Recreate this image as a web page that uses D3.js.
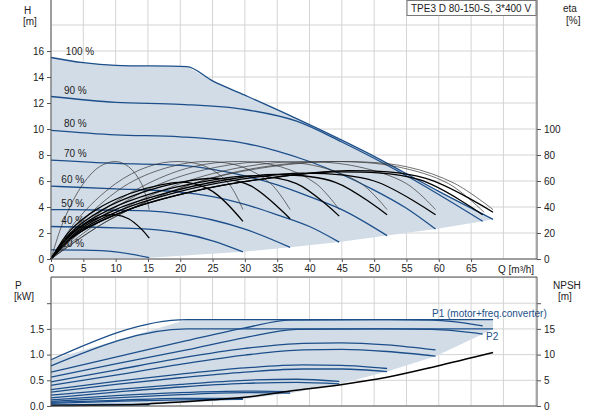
<!DOCTYPE html>
<html><head><meta charset="utf-8">
<script src="https://d3js.org/d3.v7.min.js"></script>
<style>body{margin:0;background:#fff}text{font-family:"Liberation Sans",Arial,sans-serif;font-size:10px;fill:#222}</style>
</head><body><svg id="c" width="593" height="415"></svg>
<script>
const xTicks=[0,5,10,15,20,25,30,35,40,45,50,55,60,65];
const hTicks=[0,2,4,6,8,10,12,14,16];
const etaTicks=[0,20,40,60,80,100];
const pTicks=[0,0.5,1.0,1.5];
const npshTicks=[0,5,10,15];
const speedLabels=["100 %","90 %","80 %","70 %","60 %","50 %","40 %","20 %"];
// QH curves per speed
const qh=[
 [[0,15.5],[5,15.1],[10,14.9],[21,14.8],[25,13.7],[30,12.6],[38,10.8],[50,7.9],[60,5.2],[68.4,3.05]],
 [[0,12.5],[10,12.05],[20,11.9],[30,11.5],[38,10.6],[45,9.0],[55,6.4],[66.8,2.9]],
 [[0,9.9],[10,9.55],[20,9.4],[30,8.9],[35,8.3],[40,7.5],[45,6.5],[50,5.3],[55,3.9],[59.5,2.3]],
 [[0,7.6],[10,7.35],[20,7.2],[25,6.9],[30,6.4],[35,5.7],[40,4.8],[45,3.8],[52,1.8]],
 [[0,5.6],[10,5.4],[20,5.15],[25,4.8],[30,4.2],[35,3.4],[40,2.5],[44.6,1.3]],
 [[0,3.8],[10,3.75],[15,3.7],[20,3.45],[25,3.0],[30,2.3],[37,0.9]],
 [[0,2.5],[10,2.4],[15,2.3],[20,2.0],[25,1.4],[29.7,0.55]],
 [[0,0.7],[5,0.68],[10,0.55],[15.2,0.1]]
];
const qhMin=[[15.2,0.1],[29.7,0.55],[37,0.9],[44.6,1.3],[52,1.8],[59.5,2.3],[66.8,2.9],[68.4,3.05]];
// efficiency (pump only, thin) [Q, %]
const etaPump=[
 [[0,0],[2,30],[5,58],[7.5,71],[10,75],[12,71],[14,58],[15.2,38]],
 [[0,0],[4,30],[10,58],[15,71],[19.5,75],[24,71],[27.5,58],[29.7,38]],
 [[0,0],[5,30],[12,58],[18.5,71],[24,75],[29.5,71],[34,58],[37,38]],
 [[0,0],[6,30],[15,58],[22,71],[29,75],[35.5,71],[41,58],[44.6,38]],
 [[0,0],[7,30],[17,58],[26,71],[34,75],[41.5,71],[48,58],[52,38]],
 [[0,0],[8,30],[20,58],[30,71],[39,75],[47.5,71],[55,58],[59.5,38]],
 [[0,0],[9,30],[22,58],[33,71],[44,75],[53.5,71],[61.5,58],[67,36]],
 [[0,0],[9,30],[22,58],[34,71],[45,75],[55,71],[62.5,58],[68.4,38]]
];
// efficiency total (thick)
const etaTotal=[
 [[0,0],[2,13],[5,26],[8,33],[10,34],[12,31],[14,23],[15.2,16]],
 [[0,0],[3,22],[7,38],[12,50],[17,57],[21,59],[25,52],[29.7,29]],
 [[0,0],[3,20],[8,38],[14,51],[20,59],[26,62],[31,56],[37,31]],
 [[0,0],[3,19],[9,38],[16,51],[23,59],[31,64],[38,58],[44.6,33]],
 [[0,0],[4,21],[10,38],[18,51],[26,60],[35,65],[44,59],[52,34]],
 [[0,0],[4,20],[11,38],[20,52],[29,61],[39,66],[50,60],[59.5,34]],
 [[0,0],[4,19],[12,38],[22,52],[32,61],[44,67],[57,61],[66.8,34]],
 [[0,0],[4,19],[12,38],[22,52],[32,61],[46,68],[58,62],[68.4,36]]
];
// power P1 / P2 [Q, kW]
const p1=[
 [[0,0.9],[21,1.68],[68.4,1.68]],
 [[0,0.66],[10,0.95],[21,1.27],[30,1.52],[37,1.67],[50,1.68],[59,1.67],[66.8,1.56]],
 [[0,0.47],[10,0.7],[20,0.93],[30,1.12],[39,1.22],[45,1.23],[52,1.19],[59.5,1.09]],
 [[0,0.32],[10,0.48],[20,0.62],[30,0.74],[39,0.8],[45,0.79],[52,0.73]],
 [[0,0.21],[10,0.32],[20,0.42],[30,0.5],[38,0.52],[44.6,0.48]],
 [[0,0.12],[10,0.2],[20,0.26],[30,0.29],[37,0.28]],
 [[0,0.07],[10,0.11],[20,0.15],[29.7,0.15]],
 [[0,0.02],[8,0.03],[15.2,0.03]]
];
const p2=[
 [[0,0.78],[21,1.5],[68.4,1.5]],
 [[0,0.56],[10,0.82],[21,1.09],[30,1.33],[38,1.49],[50,1.5],[59,1.49],[66.8,1.40]],
 [[0,0.4],[10,0.6],[20,0.81],[30,0.99],[39,1.09],[45,1.1],[52,1.06],[59.5,0.97]],
 [[0,0.27],[10,0.42],[20,0.55],[30,0.66],[39,0.72],[45,0.72],[52,0.67]],
 [[0,0.16],[10,0.27],[20,0.37],[30,0.44],[38,0.46],[44.6,0.43]],
 [[0,0.09],[10,0.16],[20,0.22],[30,0.26],[37,0.25]],
 [[0,0.05],[10,0.09],[20,0.12],[29.7,0.13]],
 [[0,0.01],[8,0.02],[15.2,0.02]]
];
const pMinEdge=[[68.4,1.5],[66.8,1.40],[59.5,0.97],[52,0.67],[44.6,0.43],[37,0.25],[29.7,0.13],[15.2,0.02],[0,0]];
const npsh=[[0,0.1],[10,0.2],[15,0.4],[20,0.8],[25,1.2],[30,1.7],[37,2.9],[44.6,4.1],[52,5.6],[59.5,7.7],[68.4,10.4]];

const svg=d3.select("#c");
const L=51,R=537;
const x=d3.scaleLinear().domain([0,75.2]).range([L,R]);
const yH=d3.scaleLinear().domain([0,20]).range([259,-1]);
const yEta=d3.scaleLinear().domain([0,200]).range([259,-1]);
const yP=d3.scaleLinear().domain([0,2.5]).range([406,277.5]);
const yN=d3.scaleLinear().domain([0,25]).range([406,277.5]);
const blue="#1c4f8a", shade="#d2dce7", grid="#d4d4d4";

function gridLines(y,vals,top,bot){
  const g=svg.append("g");
  d3.range(0,76,5).forEach(v=>g.append("line").attr("x1",x(v)).attr("x2",x(v)).attr("y1",top).attr("y2",bot).attr("stroke",grid));
  vals.forEach(v=>g.append("line").attr("x1",L).attr("x2",R).attr("y1",y(v)).attr("y2",y(v)).attr("stroke",grid));
}
gridLines(yH,d3.range(0,21,2),0,259);
gridLines(yP,[0,0.5,1,1.5,2,2.5],277,406);

const lc=d3.line().x(d=>x(d[0])).curve(d3.curveMonotoneX);
const lH=d3.line().x(d=>x(d[0])).y(d=>yH(d[1])).curve(d3.curveMonotoneX);
const lE=d3.line().x(d=>x(d[0])).y(d=>yEta(d[1])).curve(d3.curveCatmullRom);
const lP=d3.line().x(d=>x(d[0])).y(d=>yP(d[1])).curve(d3.curveMonotoneX);
const lN=d3.line().x(d=>x(d[0])).y(d=>yN(d[1])).curve(d3.curveMonotoneX);

// top shaded area
const topPoly=qh[0].concat(qhMin.slice().reverse(),[[0,0]]);
svg.append("path").attr("d",d3.line().x(d=>x(d[0])).y(d=>yH(d[1]))(topPoly)).attr("fill",shade);
qh.forEach(c=>svg.append("path").attr("d",lH(c)).attr("fill","none").attr("stroke",blue).attr("stroke-width",1.3));
etaPump.forEach(c=>svg.append("path").attr("d",lE(c)).attr("fill","none").attr("stroke","#333").attr("stroke-width",0.7));
etaTotal.forEach(c=>svg.append("path").attr("d",lE(c)).attr("fill","none").attr("stroke","#000").attr("stroke-width",1.3));
speedLabels.forEach((s,i)=>svg.append("text").attr("x",x(i==0?2.3:i<4?2:1.6)).attr("y",yH(qh[i][0][1])-3).text(s));

// bottom shaded
const botPoly=p1[0].concat(pMinEdge);
svg.append("path").attr("d",d3.line().x(d=>x(d[0])).y(d=>yP(d[1]))(botPoly)).attr("fill",shade);
p1.concat(p2).forEach(c=>svg.append("path").attr("d",lP(c)).attr("fill","none").attr("stroke",blue).attr("stroke-width",1.3));
svg.append("path").attr("d",lN(npsh)).attr("fill","none").attr("stroke","#000").attr("stroke-width",1.5);
svg.append("text").attr("x",432).attr("y",317).attr("fill",blue).style("fill",blue).text("P1 (motor+freq.converter)");
svg.append("text").attr("x",486).attr("y",340).style("fill",blue).text("P2");

// frames / axes
function frame(top,bot){
  svg.append("line").attr("x1",L).attr("x2",L).attr("y1",top).attr("y2",bot).attr("stroke","#555");
  svg.append("line").attr("x1",R).attr("x2",R).attr("y1",top).attr("y2",bot).attr("stroke","#555");
  svg.append("line").attr("x1",L).attr("x2",R).attr("y1",bot).attr("y2",bot).attr("stroke","#555");
}
frame(0,259);frame(277,406);
svg.append("line").attr("x1",L).attr("x2",R).attr("y1",277).attr("y2",277).attr("stroke","#555");
function axis(ax,tr){const g=svg.append("g").attr("transform",tr).call(ax);g.select(".domain").remove();g.selectAll("line").attr("stroke","#555");g.selectAll("text").attr("fill","#222").style("font-size","10px");return g;}
axis(d3.axisLeft(yH).tickValues(hTicks).tickSize(4).tickFormat(d3.format("d")),`translate(${L},0)`);
axis(d3.axisRight(yEta).tickValues(etaTicks).tickSize(4).tickFormat(d3.format("d")),`translate(${R},0)`);
axis(d3.axisBottom(x).tickValues(xTicks).tickSize(3).tickFormat(d3.format("d")),`translate(0,259)`);
axis(d3.axisLeft(yP).tickValues([0,0.5,1,1.5,2]).tickSize(4).tickFormat(d=>d==2?"":d3.format(".1f")(d)),`translate(${L},0)`);
axis(d3.axisRight(yN).tickValues([0,5,10,15,20]).tickSize(4).tickFormat(d=>d==20?"":d3.format("d")(d)),`translate(${R},0)`);
svg.append("text").attr("x",498).attr("y",273).html("Q [m³/h]");
// titles
[["H",24,14],["[m]",23,25],["P",15,289],["[kW]",14,300]].forEach(t=>svg.append("text").attr("x",t[1]).attr("y",t[2]).text(t[0]));
[["eta",563,12],["[%]",566,24],["NPSH",553,289],["[m]",558,300]].forEach(t=>svg.append("text").attr("x",t[1]).attr("y",t[2]).text(t[0]));
svg.append("rect").attr("x",407).attr("y",0.5).attr("width",129).attr("height",15).attr("fill","#fff").attr("stroke","#777");
svg.append("text").attr("x",411).attr("y",11.5).text("TPE3 D 80-150-S, 3*400 V");
</script></body></html>
